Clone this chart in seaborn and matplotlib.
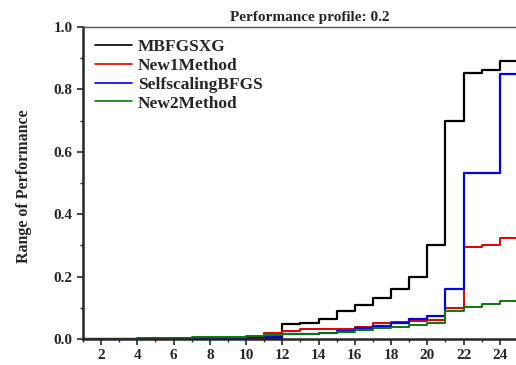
import matplotlib
matplotlib.use("Agg")
import matplotlib.pyplot as plt
from matplotlib.ticker import MultipleLocator, FormatStrFormatter
import pandas as pd
import seaborn as sns

# Step positions (problem-size / tau grid)
x_vals = list(range(1, 27))

# Fraction of problems solved, one value per step start
mbfgsxg = [0.0, 0.0, 0.0, 0.0, 0.0, 0.0, 0.0, 0.0, 0.0, 0.002, 0.003,
           0.048, 0.052, 0.063, 0.090, 0.109, 0.131, 0.161, 0.200, 0.300,
           0.699, 0.853, 0.862, 0.891, 0.891, 0.891]
new1_method = [0.0, 0.0, 0.0, 0.0, 0.0, 0.003, 0.003, 0.0, 0.0, 0.004, 0.018,
               0.027, 0.031, 0.031, 0.033, 0.040, 0.050, 0.056, 0.057, 0.061,
               0.098, 0.296, 0.300, 0.323, 0.323, 0.323]
selfscaling_bfgs = [0.0, 0.0, 0.0, 0.0, 0.0, 0.0, 0.0, 0.0, 0.0, 0.006, 0.008,
                    0.015, 0.016, 0.020, 0.027, 0.036, 0.043, 0.052, 0.063, 0.075,
                    0.161, 0.532, 0.532, 0.849, 0.849, 0.849]
new2_method = [0.0, 0.0, 0.0, 0.003, 0.003, 0.003, 0.005, 0.005, 0.005, 0.010, 0.013,
               0.015, 0.016, 0.018, 0.021, 0.030, 0.034, 0.040, 0.045, 0.052,
               0.090, 0.101, 0.111, 0.121, 0.121, 0.121]

method_names = ["MBFGSXG", "New1Method", "SelfscalingBFGS", "New2Method"]
method_colors = ["#000000", "#e00000", "#0000e8", "#0a780a"]
method_widths = [1.6, 1.4, 1.6, 1.4]

df = pd.DataFrame({
    "x": x_vals * 4,
    "value": mbfgsxg + new1_method + selfscaling_bfgs + new2_method,
    "method": sum([[m] * len(x_vals) for m in method_names], []),
})

sns.set_style("ticks")
plt.rcParams["font.family"] = ["Liberation Serif", "DejaVu Serif"]
plt.rcParams["font.weight"] = "bold"

W, H = 516, 365
fig = plt.figure(figsize=(W / 100, H / 100), dpi=100)
# plot area runs slightly past the right edge of the canvas
left_px, right_px, top_px, bottom_px = 83, 536, 27, 339
ax = fig.add_axes([left_px / W, 1 - bottom_px / H,
                   (right_px - left_px) / W, (bottom_px - top_px) / H])

for name, color, lw in zip(method_names, method_colors, method_widths):
    sns.lineplot(data=df[df["method"] == name], x="x", y="value",
                 color=color, linewidth=lw, drawstyle="steps-post",
                 estimator=None, label=name, ax=ax)

ax.set_xlim(1, 26)
ax.set_ylim(0, 1.0)
ax.set_xticks(range(2, 25, 2))
ax.xaxis.set_minor_locator(MultipleLocator(1))
ax.yaxis.set_major_locator(MultipleLocator(0.2))
ax.yaxis.set_minor_locator(MultipleLocator(0.1))
ax.yaxis.set_major_formatter(FormatStrFormatter("%.1f"))

ax.tick_params(axis="both", which="major", direction="out", length=4,
               width=1.2, labelsize=11)
ax.tick_params(axis="both", which="minor", direction="out", length=2.5, width=1)
for lbl in ax.get_xticklabels() + ax.get_yticklabels():
    lbl.set_fontweight("bold")

for side in ["left", "bottom"]:
    ax.spines[side].set_linewidth(1.8)
ax.spines["top"].set_linewidth(1.0)
ax.spines["top"].set_color("#555555")
ax.spines["right"].set_visible(False)

ax.set_xlabel("")
ax.set_ylabel("Range of Performance", fontsize=11.5, fontweight="bold")
ax.yaxis.set_label_coords(-0.112, 0.49)
ax.set_title("Performance profile: 0.2", fontsize=11, fontweight="bold", pad=4)

leg = ax.legend(loc="upper left", frameon=False, handlelength=2.15,
                handletextpad=0.3, labelspacing=0.15,
                prop={"size": 12.5, "weight": "bold"},
                bbox_to_anchor=(0.0, 1.0), borderaxespad=0.3)
for h in leg.get_lines():
    h.set_linewidth(1.2)

fig.savefig("out.png", dpi=100)
